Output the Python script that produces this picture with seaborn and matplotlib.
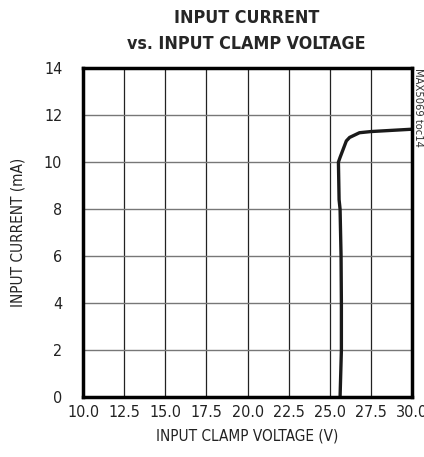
import matplotlib
matplotlib.use("Agg")
import matplotlib.pyplot as plt
import seaborn as sns
import pandas as pd

# --- DATA ---
clamp_voltage = [25.62, 25.70, 25.70, 25.68, 25.62, 25.56, 25.52, 25.62, 26.0, 26.2, 26.8, 27.5, 30.0]
input_current = [0.0, 2.0, 4.0, 6.0, 8.0, 8.4, 10.0, 10.2, 10.9, 11.05, 11.25, 11.3, 11.4]
x_ticks = [10.0, 12.5, 15.0, 17.5, 20.0, 22.5, 25.0, 27.5, 30.0]
y_ticks = [0, 2, 4, 6, 8, 10, 12, 14]

sns.set_style("white")
plt.rcParams['font.family'] = ['DejaVu Sans']
plt.rcParams['font.stretch'] = 'condensed'

df = pd.DataFrame({"V": clamp_voltage, "I": input_current})

fig = plt.figure(figsize=(4.24, 4.57), dpi=100)
ax = fig.add_axes([0.196, 0.131, 0.776, 0.72])

sns.lineplot(data=df, x="V", y="I", sort=False, estimator=None,
             color="#1a1a1a", linewidth=2.4, ax=ax)

ax.set_xlim(10, 30)
ax.set_ylim(0, 14)
ax.set_xticks(x_ticks)
ax.set_xticklabels([f"{t:.1f}" for t in x_ticks])
ax.set_yticks(y_ticks)
ax.set_yticklabels([str(t) for t in y_ticks])

# grid: vertical dark, horizontal grey
for t in x_ticks[1:-1]:
    ax.axvline(t, color="#222222", lw=0.9, zorder=0)
for t in y_ticks[1:-1]:
    ax.axhline(t, color="#777777", lw=1.0, zorder=0)

for s in ax.spines.values():
    s.set_visible(True)
    s.set_color("black")
    s.set_linewidth(2.5)

ax.tick_params(axis="x", length=0, labelsize=11.5, pad=6, colors="#222222")
ax.tick_params(axis="y", length=0, labelsize=11.5, pad=15, colors="#222222")
ax.set_xlabel("INPUT CLAMP VOLTAGE (V)", fontsize=11, color="#222222", labelpad=6)
ax.set_ylabel("INPUT CURRENT (mA)", fontsize=11, color="#222222", labelpad=13)

fig.text(0.581, 0.98, "INPUT CURRENT\nvs. INPUT CLAMP VOLTAGE", ha="center", va="top",
         fontsize=12.8, fontweight="bold", linespacing=1.55)
fig.text(0.987, 0.851, "MAX5069 toc14", rotation=-90, ha="center", va="top",
         fontsize=8, color="#333333")

fig.savefig("out.png", dpi=100)
